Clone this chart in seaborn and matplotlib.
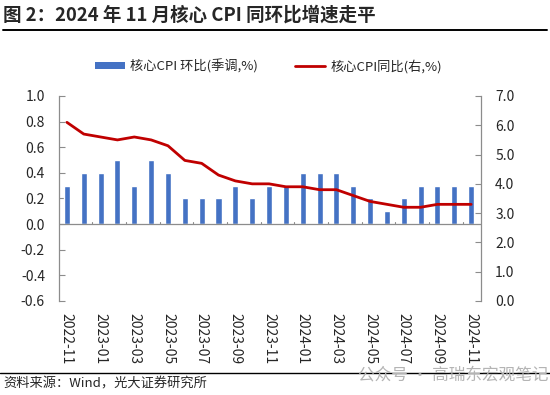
import numpy as np
import pandas as pd
import matplotlib
matplotlib.use("Agg")
import matplotlib.pyplot as plt
import seaborn as sns
from matplotlib.patches import Patch
from matplotlib.lines import Line2D

# ---- data ----
months = ["2022-11", "2022-12", "2023-01", "2023-02", "2023-03", "2023-04",
          "2023-05", "2023-06", "2023-07", "2023-08", "2023-09", "2023-10",
          "2023-11", "2023-12", "2024-01", "2024-02", "2024-03", "2024-04",
          "2024-05", "2024-06", "2024-07", "2024-08", "2024-09", "2024-10",
          "2024-11"]
mom_sa = [0.3, 0.4, 0.4, 0.5, 0.3, 0.5, 0.4, 0.2, 0.2, 0.2, 0.3, 0.2, 0.3,
          0.3, 0.4, 0.4, 0.4, 0.3, 0.2, 0.1, 0.2, 0.3, 0.3, 0.3, 0.3]
yoy = [6.1, 5.7, 5.6, 5.5, 5.6, 5.5, 5.3, 4.8, 4.7, 4.3, 4.1, 4.0, 4.0,
       3.9, 3.9, 3.8, 3.8, 3.6, 3.4, 3.3, 3.2, 3.2, 3.3, 3.3, 3.3]
left_ticks = [-0.6, -0.4, -0.2, 0.0, 0.2, 0.4, 0.6, 0.8, 1.0]
right_ticks = [0.0, 1.0, 2.0, 3.0, 4.0, 5.0, 6.0, 7.0]

title = "图 2：2024 年 11 月核心 CPI 同环比增速走平"
bar_name = "核心CPI 环比(季调,%)"
line_name = "核心CPI同比(右,%)"
source = "资料来源：Wind，光大证券研究所"
watermark = "公众号 · 高瑞东宏观笔记"

BLUE = "#4472C4"
RED = "#C00000"
GREY = "#8c8c8c"

sns.set_theme(style="white")
plt.rcParams["font.family"] = ["Noto Sans CJK SC", "DejaVu Sans"]

df = pd.DataFrame({"month": months, "mom": mom_sa, "yoy": yoy})
df["pos"] = np.arange(len(df))

fig = plt.figure(figsize=(5.5, 3.95), dpi=100)
ax = fig.add_axes([0.107, 0.238, 0.768, 0.519])

sns.barplot(data=df, x="month", y="mom", color=BLUE, width=0.36,
            saturation=1, ax=ax, order=months)
ax.set_xlim(-0.48, len(months) - 1 + 0.6)
ax.set_ylim(left_ticks[0], left_ticks[-1])
ax.set_yticks(left_ticks)
ax.set_yticklabels([f"{v:.1f}" for v in left_ticks], fontsize=10)
ax.axhline(0, color=GREY, lw=0.9, zorder=1)
# small upward marks on the zero line between every second pair of bars
for b in np.arange(1.5, len(months) - 1, 2):
    ax.plot([b, b], [0, 0.02], color=GREY, lw=0.8, zorder=1)

ax.set_xticks(df["pos"][::2])
ax.set_xticklabels(months[::2], rotation=270, fontsize=10, va="top", ha="center")
ax.tick_params(axis="x", length=0, pad=9)
ax.tick_params(axis="y", direction="in", length=4, color=GREY, width=0.8,
               left=True, pad=10)
ax.set_xlabel("")
ax.set_ylabel("")
for s in ["top", "right", "bottom"]:
    ax.spines[s].set_visible(False)
ax.spines["left"].set_color(GREY)
ax.spines["left"].set_linewidth(0.9)

ax2 = ax.twinx()
sns.lineplot(data=df, x="pos", y="yoy", color=RED, lw=2, ax=ax2)
ax2.set_ylim(right_ticks[0], right_ticks[-1])
ax2.set_yticks(right_ticks)
ax2.set_yticklabels([f"{v:.1f}" for v in right_ticks], fontsize=10)
ax2.tick_params(axis="y", direction="in", length=4, color=GREY, width=0.8,
                right=True, pad=10)
ax2.set_xlabel("")
ax2.set_ylabel("")
for s in ["top", "left", "bottom"]:
    ax2.spines[s].set_visible(False)
ax2.spines["right"].set_color(GREY)
ax2.spines["right"].set_linewidth(0.9)
ax2.set_xlim(ax.get_xlim())

# legend
handles = [Patch(facecolor=BLUE, edgecolor="none"),
           Line2D([0], [0], color=RED, lw=2)]
fig.legend(handles, [bar_name, line_name], loc="center",
           bbox_to_anchor=(0.488, 0.833), ncol=2, frameon=False, fontsize=9.5,
           handlelength=2.3, handleheight=0.5, handletextpad=0.4,
           columnspacing=2.8)

# title, rules, footer
fig.text(0.006, 0.962, title, fontsize=13.3, fontweight="bold", va="center")
fig.add_artist(Line2D([0.006, 0.995], [0.924, 0.924], color="black", lw=1.4))
fig.add_artist(Line2D([0.0, 1.0], [0.056, 0.056], color="black", lw=1.0))
fig.text(0.006, 0.027, source, fontsize=9.5, va="center")
fig.text(0.998, 0.05, watermark, fontsize=12, color="#b4b4b4",
         ha="right", va="center")

fig.savefig("out.png", dpi=100, facecolor="white")
